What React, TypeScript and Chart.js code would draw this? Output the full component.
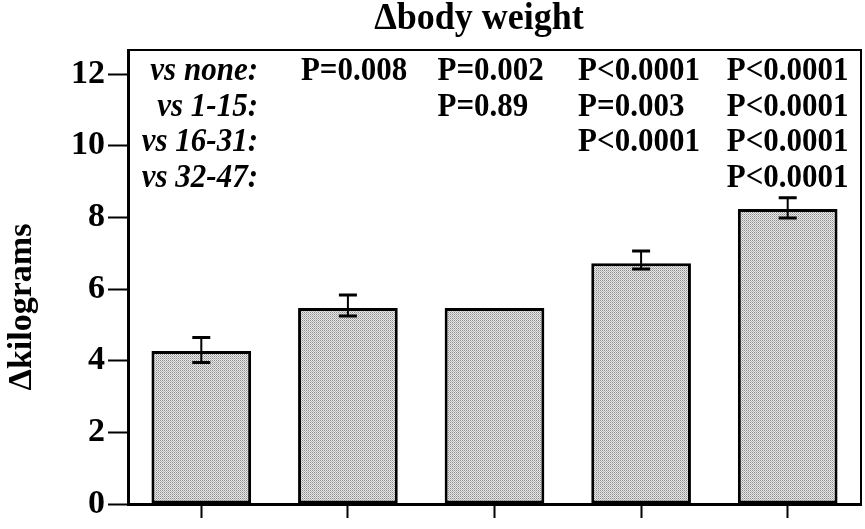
import React, { useEffect, useRef } from "react";
import { Chart, registerables } from "chart.js";

Chart.register(...registerables);

const categories = ["none", "1-15", "16-31", "32-47", "48+"];
const meanValues = [4.27, 5.47, 5.47, 6.72, 8.23];
const errorUpper: (number | null)[] = [4.65, 5.83, null, 7.06, 8.55];
const errorLower: (number | null)[] = [3.95, 5.25, null, 6.56, 7.98];
const yTicks = [0, 2, 4, 6, 8, 10, 12];
const yMax = 12.67;

const chartTitle = "\u0394body weight";
const yTitle = "\u0394kilograms";
const rowLabels = ["vs none:", "vs 1-15:", "vs 16-31:", "vs 32-47:"];
const pRow0: (string | null)[] = [null, "P=0.008", "P=0.002", "P<0.0001", "P<0.0001"];
const pRow1: (string | null)[] = [null, null, "P=0.89", "P=0.003", "P<0.0001"];
const pRow2: (string | null)[] = [null, null, null, "P<0.0001", "P<0.0001"];
const pRow3: (string | null)[] = [null, null, null, null, "P<0.0001"];
const pRows = [pRow0, pRow1, pRow2, pRow3];

const FONT = '"Liberation Serif", "Times New Roman", serif';

function makePattern(): CanvasPattern | string {
  const c = document.createElement("canvas");
  c.width = 2;
  c.height = 2;
  const g = c.getContext("2d");
  if (!g) return "#cccccc";
  g.fillStyle = "#e8e8e8";
  g.fillRect(0, 0, 2, 2);
  g.fillStyle = "#8c8c8c";
  g.fillRect(0, 0, 1, 1);
  g.fillStyle = "#b4b4b4";
  g.fillRect(1, 1, 1, 1);
  const p = g.createPattern(c, "repeat");
  return p || "#cccccc";
}

function stretchedText(
  ctx: CanvasRenderingContext2D,
  text: string,
  x: number,
  y: number,
  sy: number
) {
  ctx.save();
  ctx.translate(x, y);
  ctx.scale(1, sy);
  ctx.fillText(text, 0, 0);
  ctx.restore();
}

const decorPlugin = {
  id: "decor",
  afterDatasetsDraw(chart: any) {
    const ctx = chart.ctx as CanvasRenderingContext2D;
    const xs = chart.scales.x;
    const ys = chart.scales.y;
    ctx.save();
    ctx.strokeStyle = "#000";
    ctx.fillStyle = "#000";
    meanValues.forEach((_, i) => {
      const up = errorUpper[i];
      const lo = errorLower[i];
      if (up == null || lo == null) return;
      const cx = xs.getPixelForValue(i);
      const yu = ys.getPixelForValue(up);
      const yl = ys.getPixelForValue(lo);
      ctx.lineWidth = 2;
      ctx.beginPath();
      ctx.moveTo(cx, yu);
      ctx.lineTo(cx, yl);
      ctx.stroke();
      ctx.lineWidth = 3;
      ctx.beginPath();
      ctx.moveTo(cx - 9, yu);
      ctx.lineTo(cx + 9, yu);
      ctx.moveTo(cx - 9, yl);
      ctx.lineTo(cx + 9, yl);
      ctx.stroke();
    });
    ctx.restore();
  },
  afterDraw(chart: any) {
    const ctx = chart.ctx as CanvasRenderingContext2D;
    const area = chart.chartArea;
    const xs = chart.scales.x;
    ctx.save();
    // top and right frame
    ctx.strokeStyle = "#000";
    ctx.lineWidth = 2;
    ctx.beginPath();
    ctx.moveTo(area.left, area.top);
    ctx.lineTo(area.right, area.top);
    ctx.lineTo(area.right, area.bottom);
    ctx.stroke();

    // title
    ctx.fillStyle = "#000";
    ctx.textBaseline = "alphabetic";
    ctx.textAlign = "center";
    ctx.font = `bold 36px ${FONT}`;
    stretchedText(ctx, chartTitle, 479, 29, 1.05);

    // y title
    ctx.save();
    ctx.translate(22, 307);
    ctx.rotate(-Math.PI / 2);
    ctx.textAlign = "center";
    ctx.textBaseline = "middle";
    ctx.font = `bold 34px ${FONT}`;
    ctx.fillText(yTitle, 0, 0);
    ctx.restore();

    // annotation rows
    const colOffsets = [0, -47, -57, -63, -61];
    pRows.forEach((row, r) => {
      const y = area.top + 30 + r * 35.6;
      ctx.textAlign = "right";
      ctx.font = `italic bold 31px ${FONT}`;
      stretchedText(ctx, rowLabels[r], area.left + 130, y, 1.06);
      ctx.textAlign = "left";
      ctx.font = `bold 31px ${FONT}`;
      row.forEach((t, i) => {
        if (!t) return;
        const cx = xs.getPixelForValue(i);
        stretchedText(ctx, t, cx + colOffsets[i], y, 1.06);
      });
    });
    ctx.restore();
  },
};

export default function App() {
  const ref = useRef<HTMLCanvasElement>(null);
  useEffect(() => {
    document.body.style.margin = "0";
    const canvas = ref.current;
    if (!canvas) return;
    const pattern = makePattern();
    const chart = new Chart(canvas, {
      type: "bar",
      data: {
        labels: categories,
        datasets: [
          {
            data: meanValues,
            backgroundColor: pattern as any,
            borderColor: "#000",
            borderWidth: 3,
            borderSkipped: false,
            barPercentage: 0.68,
            categoryPercentage: 1,
          },
        ],
      },
      options: {
        responsive: false,
        animation: false,
        layout: { padding: { top: 50, right: 4, left: 0, bottom: 0 } },
        plugins: {
          legend: { display: false },
          tooltip: { enabled: false },
          title: { display: false },
        },
        scales: {
          x: {
            grid: {
              offset: false,
              drawOnChartArea: false,
              drawTicks: true,
              tickLength: 14,
              tickWidth: 2,
              color: "#000",
            },
            border: { display: true, width: 3, color: "#000" },
            ticks: { callback: () => "", padding: 0 },
            afterFit: (s: any) => {
              s.height = 25;
            },
          },
          y: {
            min: 0,
            max: yMax,
            afterBuildTicks: (s: any) => {
              s.ticks = yTicks.map((v) => ({ value: v }));
            },
            afterFit: (s: any) => {
              s.width = 128;
            },
            grid: {
              drawOnChartArea: false,
              drawTicks: true,
              tickLength: 20,
              tickWidth: 2,
              color: "#000",
            },
            border: { display: true, width: 3, color: "#000" },
            ticks: {
              color: "#000",
              padding: 3,
              font: { family: FONT, size: 34, weight: "bold" },
            },
          },
        },
      },
      plugins: [decorPlugin],
    });
    return () => chart.destroy();
  }, []);
  return (
    <div style={{ width: 865, height: 529 }}>
      <canvas ref={ref} width={865} height={529} style={{ display: "block" }} />
    </div>
  );
}
